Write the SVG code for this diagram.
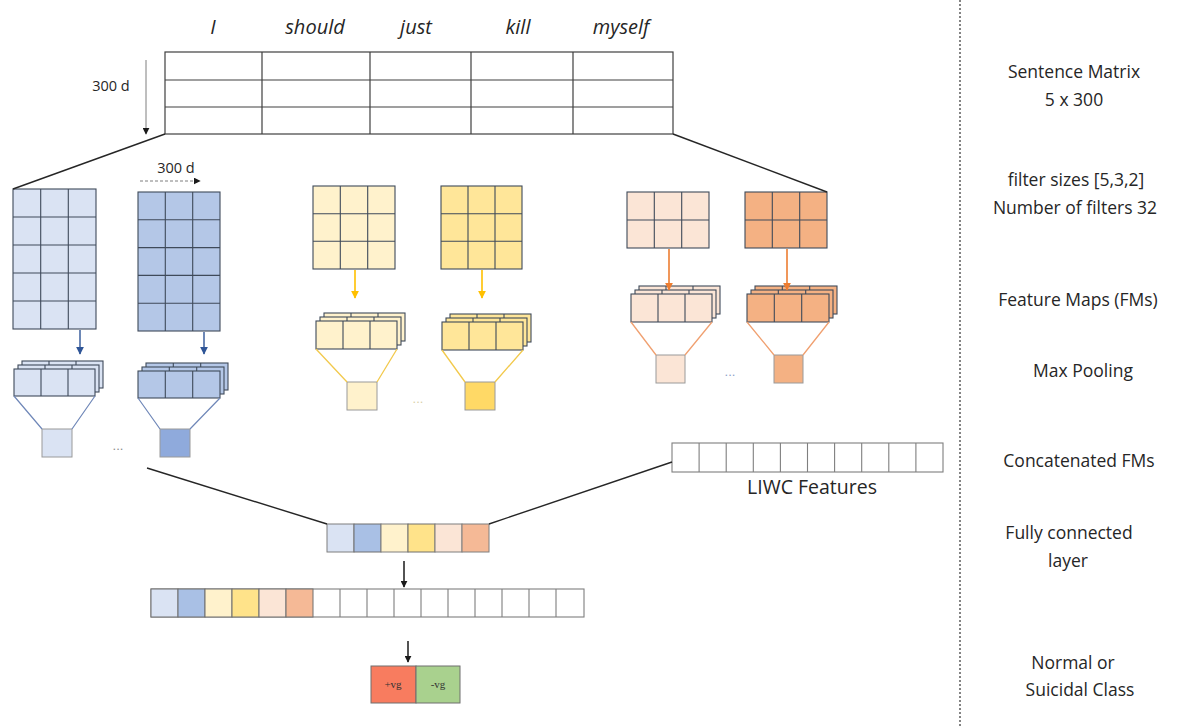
<svg xmlns="http://www.w3.org/2000/svg" width="1196" height="728" viewBox="0 0 1196 728">
  <style>
    .lbl { font-family: "Open Sans", "Liberation Sans", sans-serif; font-size: 17.5px; fill: #262626; text-anchor: middle; }
    .word { font-family: "Open Sans", "Liberation Sans", sans-serif; font-style: italic; font-size: 20px; fill: #262626; text-anchor: middle; }
    .small { font-family: "Open Sans", "Liberation Sans", sans-serif; font-size: 14.5px; fill: #262626; text-anchor: middle; }
    .grid { stroke: #3f4a5a; stroke-width: 1.1; }
    .inner { stroke: #3f4a5a; stroke-width: 1.1; fill: none; }
    .gray { stroke: #7f7f7f; stroke-width: 1.1; fill: #ffffff; }
    .grayl { stroke: #7f7f7f; stroke-width: 1.1; fill: none; }
    .pool { stroke: #9a9a9a; stroke-width: 1; }
    .conn { stroke: #262626; stroke-width: 1.4; fill: none; }
    .dots { font-family: "Liberation Sans", sans-serif; font-size: 13px; text-anchor: middle; }
  </style>
  <defs>
    <marker id="ahBlack" viewBox="0 0 10 10" refX="9" refY="5" markerWidth="7" markerHeight="7" orient="auto" markerUnits="userSpaceOnUse">
      <path d="M0,0 L10,5 L0,10 z" fill="#1a1a1a"/>
    </marker>
    <marker id="ahBlue" viewBox="0 0 10 10" refX="9" refY="5" markerWidth="8" markerHeight="8" orient="auto" markerUnits="userSpaceOnUse">
      <path d="M0,0 L10,5 L0,10 z" fill="#2f5597"/>
    </marker>
    <marker id="ahYellow" viewBox="0 0 10 10" refX="9" refY="5" markerWidth="8" markerHeight="8" orient="auto" markerUnits="userSpaceOnUse">
      <path d="M0,0 L10,5 L0,10 z" fill="#ffc000"/>
    </marker>
    <marker id="ahOrange" viewBox="0 0 10 10" refX="9" refY="5" markerWidth="8" markerHeight="8" orient="auto" markerUnits="userSpaceOnUse">
      <path d="M0,0 L10,5 L0,10 z" fill="#ed7d31"/>
    </marker>
  </defs>

  <rect width="1196" height="728" fill="#ffffff"/>

  <!-- sentence matrix -->
  <g id="sentence-matrix">
    <text class="word" x="213" y="34">I</text>
    <text class="word" x="315" y="34">should</text>
    <text class="word" x="416" y="34">just</text>
    <text class="word" x="518" y="34">kill</text>
    <text class="word" x="621" y="34">myself</text>
    <rect x="165" y="52" width="508" height="82" fill="#ffffff" stroke="#404040" stroke-width="1.2"/>
    <path d="M165,80H673M165,107H673M262,52V134M370,52V134M471,52V134M573,52V134" stroke="#404040" stroke-width="1.2" fill="none"/>
    <text class="small" x="111" y="91">300 d</text>
  </g>

  <!-- convolution filters -->
  <g id="filter-blue-1">
    <rect class="grid" x="13" y="189" width="83" height="140" fill="#dae3f3"/>
    <path class="inner" d="M40.7,189V329M68.3,189V329M13,217H96M13,245H96M13,273H96M13,301H96"/>
  </g>
  <g id="filter-blue-2">
    <text class="small" x="176" y="173">300 d</text>
    <rect class="grid" x="138" y="192" width="82" height="139" fill="#b4c7e7"/>
    <path class="inner" d="M165.3,192V331M192.7,192V331M138,219.8H220M138,247.6H220M138,275.4H220M138,303.2H220"/>
  </g>
  <g id="filter-yellow-1">
    <rect class="grid" x="313" y="186" width="82" height="83" fill="#fff2cc"/>
    <path class="inner" d="M340.3,186V269M367.7,186V269M313,213.7H395M313,241.3H395"/>
  </g>
  <g id="filter-yellow-2">
    <rect class="grid" x="441" y="186" width="81" height="83" fill="#ffe699"/>
    <path class="inner" d="M468,186V269M495,186V269M441,213.7H522M441,241.3H522"/>
  </g>
  <g id="filter-orange-1">
    <rect class="grid" x="627" y="192" width="82" height="56" fill="#fbe5d6"/>
    <path class="inner" d="M654.3,192V248M681.7,192V248M627,220H709"/>
  </g>
  <g id="filter-orange-2">
    <rect class="grid" x="745" y="192" width="82" height="56" fill="#f4b183"/>
    <path class="inner" d="M772.3,192V248M799.7,192V248M745,220H827"/>
  </g>

  <!-- stacked feature maps -->
  <g id="fmap-blue-1">
    <rect class="grid" x="22" y="361" width="81" height="27" fill="#dae3f3"/>
    <path class="inner" d="M49,361V388M76,361V388"/>
    <rect class="grid" x="18" y="365" width="81" height="27" fill="#dae3f3"/>
    <path class="inner" d="M45,365V392M72,365V392"/>
    <rect class="grid" x="14" y="369" width="81" height="27" fill="#dae3f3"/>
    <path class="inner" d="M41,369V396M68,369V396"/>
  </g>
  <g id="fmap-blue-2">
    <rect class="grid" x="146" y="363" width="82" height="27" fill="#b4c7e7"/>
    <path class="inner" d="M173.3,363V390M200.7,363V390"/>
    <rect class="grid" x="142" y="367" width="82" height="27" fill="#b4c7e7"/>
    <path class="inner" d="M169.3,367V394M196.7,367V394"/>
    <rect class="grid" x="138" y="371" width="82" height="27" fill="#b4c7e7"/>
    <path class="inner" d="M165.3,371V398M192.7,371V398"/>
  </g>
  <g id="fmap-yellow-1">
    <rect class="grid" x="324" y="313" width="81" height="28" fill="#fff2cc"/>
    <path class="inner" d="M351,313V341M378,313V341"/>
    <rect class="grid" x="320" y="317" width="81" height="28" fill="#fff2cc"/>
    <path class="inner" d="M347,317V345M374,317V345"/>
    <rect class="grid" x="316" y="321" width="81" height="28" fill="#fff2cc"/>
    <path class="inner" d="M343,321V349M370,321V349"/>
  </g>
  <g id="fmap-yellow-2">
    <rect class="grid" x="450" y="314" width="81" height="28" fill="#ffe699"/>
    <path class="inner" d="M477,314V342M504,314V342"/>
    <rect class="grid" x="446" y="318" width="81" height="28" fill="#ffe699"/>
    <path class="inner" d="M473,318V346M500,318V346"/>
    <rect class="grid" x="442" y="322" width="81" height="28" fill="#ffe699"/>
    <path class="inner" d="M469,322V350M496,322V350"/>
  </g>
  <g id="fmap-orange-1">
    <rect class="grid" x="639" y="286" width="81" height="28" fill="#fbe5d6"/>
    <path class="inner" d="M666,286V314M693,286V314"/>
    <rect class="grid" x="635" y="290" width="81" height="28" fill="#fbe5d6"/>
    <path class="inner" d="M662,290V318M689,290V318"/>
    <rect class="grid" x="631" y="294" width="81" height="28" fill="#fbe5d6"/>
    <path class="inner" d="M658,294V322M685,294V322"/>
  </g>
  <g id="fmap-orange-2">
    <rect class="grid" x="755" y="286" width="82" height="28" fill="#f4b183"/>
    <path class="inner" d="M782.3,286V314M809.7,286V314"/>
    <rect class="grid" x="751" y="290" width="82" height="28" fill="#f4b183"/>
    <path class="inner" d="M778.3,290V318M805.7,290V318"/>
    <rect class="grid" x="747" y="294" width="82" height="28" fill="#f4b183"/>
    <path class="inner" d="M774.3,294V322M801.7,294V322"/>
  </g>

  <!-- max pooled outputs -->
  <g id="pool-blue-1"><rect class="pool" x="42" y="429" width="30" height="28" fill="#dae3f3"/></g>
  <g id="pool-blue-2"><rect class="pool" x="160" y="429" width="30" height="28" fill="#8faadc"/></g>
  <g id="pool-yellow-1"><rect class="pool" x="347" y="382" width="30" height="28" fill="#fff2cc"/></g>
  <g id="pool-yellow-2"><rect class="pool" x="465" y="382" width="30" height="28" fill="#ffd966"/></g>
  <g id="pool-orange-1"><rect class="pool" x="656" y="355" width="29" height="28" fill="#fbe5d6"/></g>
  <g id="pool-orange-2"><rect class="pool" x="774" y="355" width="29" height="28" fill="#f4b183"/></g>

  <g id="ellipses">
    <text class="dots" x="118" y="450" fill="#8c8c8c">...</text>
    <text class="dots" x="418" y="403" fill="#d9cfa8">...</text>
    <text class="dots" x="730" y="376" fill="#8ea0c8">...</text>
  </g>

  <!-- LIWC features -->
  <g id="liwc-features">
    <rect class="gray" x="672" y="443" width="271" height="29"/>
    <path class="grayl" d="M699.1,443V472M726.2,443V472M753.3,443V472M780.4,443V472M807.5,443V472M834.6,443V472M861.7,443V472M888.8,443V472M915.9,443V472"/>
    <text class="lbl" x="812" y="494" style="font-size:19.5px">LIWC Features</text>
  </g>

  <!-- concatenated feature maps -->
  <g id="concat-fms">
    <rect x="327" y="524" width="27" height="28" fill="#dae3f3" stroke="#7f7f7f"/>
    <rect x="354" y="524" width="27" height="28" fill="#a9c0e5" stroke="#6f6f6f"/>
    <rect x="381" y="524" width="27" height="28" fill="#fff2cc" stroke="#7f7f7f"/>
    <rect x="408" y="524" width="27" height="28" fill="#ffe38a" stroke="#6f6f6f"/>
    <rect x="435" y="524" width="27" height="28" fill="#fbe5d6" stroke="#7f7f7f"/>
    <rect x="462" y="524" width="27" height="28" fill="#f5b996" stroke="#7f7f7f"/>
  </g>

  <!-- fully connected layer -->
  <g id="fully-connected">
    <rect class="gray" x="151" y="589" width="433" height="28"/>
    <rect x="151" y="589" width="27" height="28" fill="#dae3f3" stroke="#6f6f6f"/>
    <rect x="178" y="589" width="27" height="28" fill="#a9c0e5" stroke="#6f6f6f"/>
    <rect x="205" y="589" width="27" height="28" fill="#fff2cc" stroke="#6f6f6f"/>
    <rect x="232" y="589" width="27" height="28" fill="#ffe38a" stroke="#6f6f6f"/>
    <rect x="259" y="589" width="27" height="28" fill="#fbe5d6" stroke="#6f6f6f"/>
    <rect x="286" y="589" width="27" height="28" fill="#f5b996" stroke="#6f6f6f"/>
    <path class="grayl" d="M340,589V617M367,589V617M394,589V617M421,589V617M448,589V617M475,589V617M502,589V617M529,589V617M556,589V617"/>
  </g>

  <!-- output classes -->
  <g id="output-class">
    <rect x="371" y="666" width="45" height="37" fill="#f87c5f" stroke="#6f6f6f"/>
    <rect x="416" y="666" width="44" height="37" fill="#a9d18e" stroke="#6f6f6f"/>
    <text x="393" y="688" font-family="Liberation Serif, serif" font-size="11" fill="#333" text-anchor="middle">+vg</text>
    <text x="438" y="688" font-family="Liberation Serif, serif" font-size="11" fill="#333" text-anchor="middle">-vg</text>
  </g>

  <!-- connectors -->
  <g id="connectors">
    <line x1="146" y1="60" x2="146" y2="134" stroke="#7f7f7f" stroke-width="1" marker-end="url(#ahBlack)"/>
    <line x1="140" y1="181" x2="200" y2="181" stroke="#7f7f7f" stroke-width="1" stroke-dasharray="3,2" marker-end="url(#ahBlack)"/>
    <line class="conn" x1="165" y1="134" x2="13" y2="189"/>
    <line class="conn" x1="673" y1="134" x2="827" y2="192"/>

    <line x1="80" y1="330" x2="80" y2="354" stroke="#2f5597" stroke-width="1.4" marker-end="url(#ahBlue)"/>
    <line x1="204" y1="332" x2="204" y2="354" stroke="#2f5597" stroke-width="1.4" marker-end="url(#ahBlue)"/>
    <line x1="355" y1="270" x2="355" y2="298" stroke="#ffc000" stroke-width="1.6" marker-end="url(#ahYellow)"/>
    <line x1="482" y1="270" x2="482" y2="298" stroke="#ffc000" stroke-width="1.6" marker-end="url(#ahYellow)"/>
    <line x1="669" y1="249" x2="669" y2="290" stroke="#ed7d31" stroke-width="1.6" marker-end="url(#ahOrange)"/>
    <line x1="787" y1="249" x2="787" y2="290" stroke="#ed7d31" stroke-width="1.6" marker-end="url(#ahOrange)"/>

    <path d="M14,396L42,429M95,396L72,429" stroke="#6f87b8" stroke-width="1.2" fill="none"/>
    <path d="M138,398L160,429M220,398L190,429" stroke="#6f87b8" stroke-width="1.2" fill="none"/>
    <path d="M316,349L347,382M397,349L377,382" stroke="#f2c94c" stroke-width="1.3" fill="none"/>
    <path d="M442,350L465,382M523,350L495,382" stroke="#f2c94c" stroke-width="1.3" fill="none"/>
    <path d="M631,322L656,355M712,322L685,355" stroke="#f0a070" stroke-width="1.3" fill="none"/>
    <path d="M747,322L774,355M829,322L803,355" stroke="#f0a070" stroke-width="1.3" fill="none"/>

    <line class="conn" x1="147" y1="468" x2="327" y2="524"/>
    <line class="conn" x1="489" y1="524" x2="672" y2="462"/>
    <line x1="404" y1="561" x2="404" y2="587" stroke="#1a1a1a" stroke-width="1.5" marker-end="url(#ahBlack)"/>
    <line x1="408" y1="641" x2="408" y2="662" stroke="#1a1a1a" stroke-width="1.5" marker-end="url(#ahBlack)"/>
  </g>

  <!-- separator -->
  <line x1="960" y1="0" x2="960" y2="728" stroke="#333" stroke-width="1.2" stroke-dasharray="2,2"/>

  <!-- stage labels -->
  <g id="stage-labels">
    <text class="lbl" x="1074" y="78">Sentence Matrix</text>
    <text class="lbl" x="1074" y="106">5 x 300</text>
    <text class="lbl" x="1076" y="186">filter sizes [5,3,2]</text>
    <text class="lbl" x="1075" y="214">Number of filters 32</text>
    <text class="lbl" x="1078" y="306">Feature Maps (FMs)</text>
    <text class="lbl" x="1083" y="377">Max Pooling</text>
    <text class="lbl" x="1079" y="467">Concatenated FMs</text>
    <text class="lbl" x="1069" y="539">Fully connected</text>
    <text class="lbl" x="1068" y="567">layer</text>
    <text class="lbl" x="1073" y="669">Normal or</text>
    <text class="lbl" x="1080" y="696">Suicidal Class</text>
  </g>
</svg>
